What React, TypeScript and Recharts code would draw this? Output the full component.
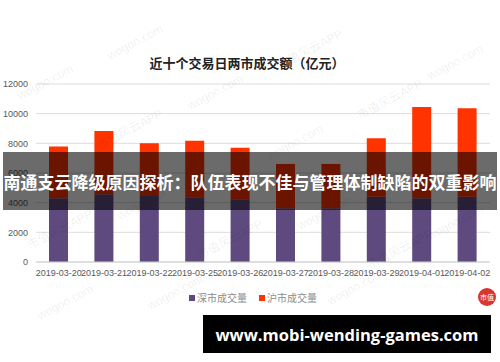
import { Bar, BarChart, CartesianGrid, XAxis, YAxis } from "recharts";

const dates = [
  "2019-03-20",
  "2019-03-21",
  "2019-03-22",
  "2019-03-25",
  "2019-03-26",
  "2019-03-27",
  "2019-03-28",
  "2019-03-29",
  "2019-04-01",
  "2019-04-02",
];
const shenzhen = [4290, 4560, 4450, 4360, 4230, 3620, 3620, 4400, 4290, 4400];
const totals = [7780, 8830, 8000, 8180, 7710, 6610, 6610, 8340, 10450, 10360];
const shanghai = totals.map((t, i) => t - shenzhen[i]);
const yTicks = [0, 2000, 4000, 6000, 8000, 10000, 12000];

const title = "近十个交易日两市成交额（亿元）";
const seriesNames = ["深市成交量", "沪市成交量"];
const banner = "南通支云降级原因探析：队伍表现不佳与管理体制缺陷的双重影响";
const site = "www.mobi-wending-games.com";

const PURPLE = "#5e4a7e";
const RED = "#ff3300";
const FONT = "'Liberation Sans', 'Noto Sans CJK SC', sans-serif";

const watermarks = [
  { x: 20, y: 100, t: "wogoo.com" },
  { x: 110, y: 60, t: "wogoo.com" },
  { x: 100, y: 150, t: "市值风云APP" },
  { x: 190, y: 110, t: "wogoo.com" },
  { x: 280, y: 70, t: "市值风云APP" },
  { x: 270, y: 160, t: "wogoo.com" },
  { x: 360, y: 120, t: "市值风云APP" },
  { x: 430, y: 80, t: "wogoo.com" },
  { x: 30, y: 250, t: "市值风云APP" },
  { x: 120, y: 220, t: "wogoo.com" },
  { x: 200, y: 260, t: "市值风云APP" },
  { x: 300, y: 230, t: "wogoo.com" },
  { x: 370, y: 270, t: "市值风云APP" },
  { x: 430, y: 240, t: "wogoo.com" },
  { x: 40, y: 320, t: "wogoo.com" },
  { x: 150, y: 310, t: "wogoo.com" },
  { x: 330, y: 305, t: "wogoo.com" },
];

export default function App() {
  const data = dates.map((d, i) => ({
    date: d,
    sz: shenzhen[i],
    sh: shanghai[i],
  }));

  return (
    <div
      style={{
        position: "relative",
        width: 500,
        height: 362,
        background: "#fff",
        fontFamily: FONT,
        overflow: "hidden",
      }}
    >
      <style>{"body{margin:0}"}</style>
      <div
        style={{
          position: "absolute",
          top: 53,
          left: 0,
          width: 494,
          textAlign: "center",
          fontSize: 13,
          fontWeight: "bold",
          color: "#222",
          fontFamily: "'Noto Sans CJK SC', sans-serif",
        }}
      >
        {title}
      </div>
      <BarChart
        width={500}
        height={362}
        data={data}
        barSize={19}
        margin={{ top: 84, right: 10, left: 0, bottom: 70 }}
      >
        <CartesianGrid vertical={false} stroke="#dcdcdc" />
        <XAxis
          dataKey="date"
          interval={0}
          tickLine={false}
          axisLine={{ stroke: "#d0d0d0" }}
          tick={{ fontSize: 9, fill: "#595959", fontFamily: FONT }}
          height={30}
        />
        <YAxis
          width={36}
          domain={[0, 12000]}
          ticks={yTicks}
          tickLine={false}
          axisLine={false}
          tick={{ fontSize: 9, fill: "#595959", fontFamily: FONT }}
        />
        <Bar dataKey="sz" name={seriesNames[0]} stackId="a" fill={PURPLE} isAnimationActive={false} />
        <Bar dataKey="sh" name={seriesNames[1]} stackId="a" fill={RED} isAnimationActive={false} />
      </BarChart>
      <div
        style={{
          position: "absolute",
          top: 290,
          left: 189,
          fontSize: 10,
          color: "#8c8c8c",
          display: "flex",
          gap: 12,
          fontFamily: "'Noto Sans CJK SC', sans-serif",
        }}
      >
        {seriesNames.map((n, i) => (
          <span key={n} style={{ display: "flex", alignItems: "center" }}>
            <span
              style={{
                display: "inline-block",
                width: 6,
                height: 6,
                background: i === 0 ? PURPLE : RED,
                marginRight: 2,
              }}
            />
            {n}
          </span>
        ))}
      </div>
      <svg
        width={500}
        height={362}
        style={{ position: "absolute", top: 0, left: 0, pointerEvents: "none" }}
      >
        {watermarks.map((w, i) => (
          <text
            key={i}
            x={w.x}
            y={w.y}
            transform={`rotate(-28 ${w.x} ${w.y})`}
            fontSize={12}
            fill="rgba(0,0,0,0.08)"
            fontFamily={FONT}
          >
            {w.t}
          </text>
        ))}
        <circle cx={487} cy={297} r={9} fill="#d8372f" />
        <text x={487} y={300} fontSize={7} fill="#fff" textAnchor="middle" fontFamily="'Noto Sans CJK SC'">
          市值
        </text>
      </svg>
      <div
        style={{
          position: "absolute",
          top: 152,
          left: 3,
          width: 494,
          height: 58,
          background: "rgba(0,0,0,0.58)",
          color: "#fff",
          fontSize: 17,
          fontWeight: "bold",
          display: "flex",
          alignItems: "center",
          justifyContent: "center",
          whiteSpace: "nowrap",
          fontFamily: "'Noto Sans CJK SC', sans-serif",
        }}
      >
        {banner}
      </div>
      <div
        style={{
          position: "absolute",
          top: 315,
          left: 203,
          width: 288,
          height: 38,
          background: "#000",
          color: "#fff",
          fontSize: 16.5,
          fontWeight: "bold",
          display: "flex",
          alignItems: "center",
          justifyContent: "center",
          fontFamily: "'Open Sans', sans-serif",
        }}
      >
        {site}
      </div>
    </div>
  );
}
